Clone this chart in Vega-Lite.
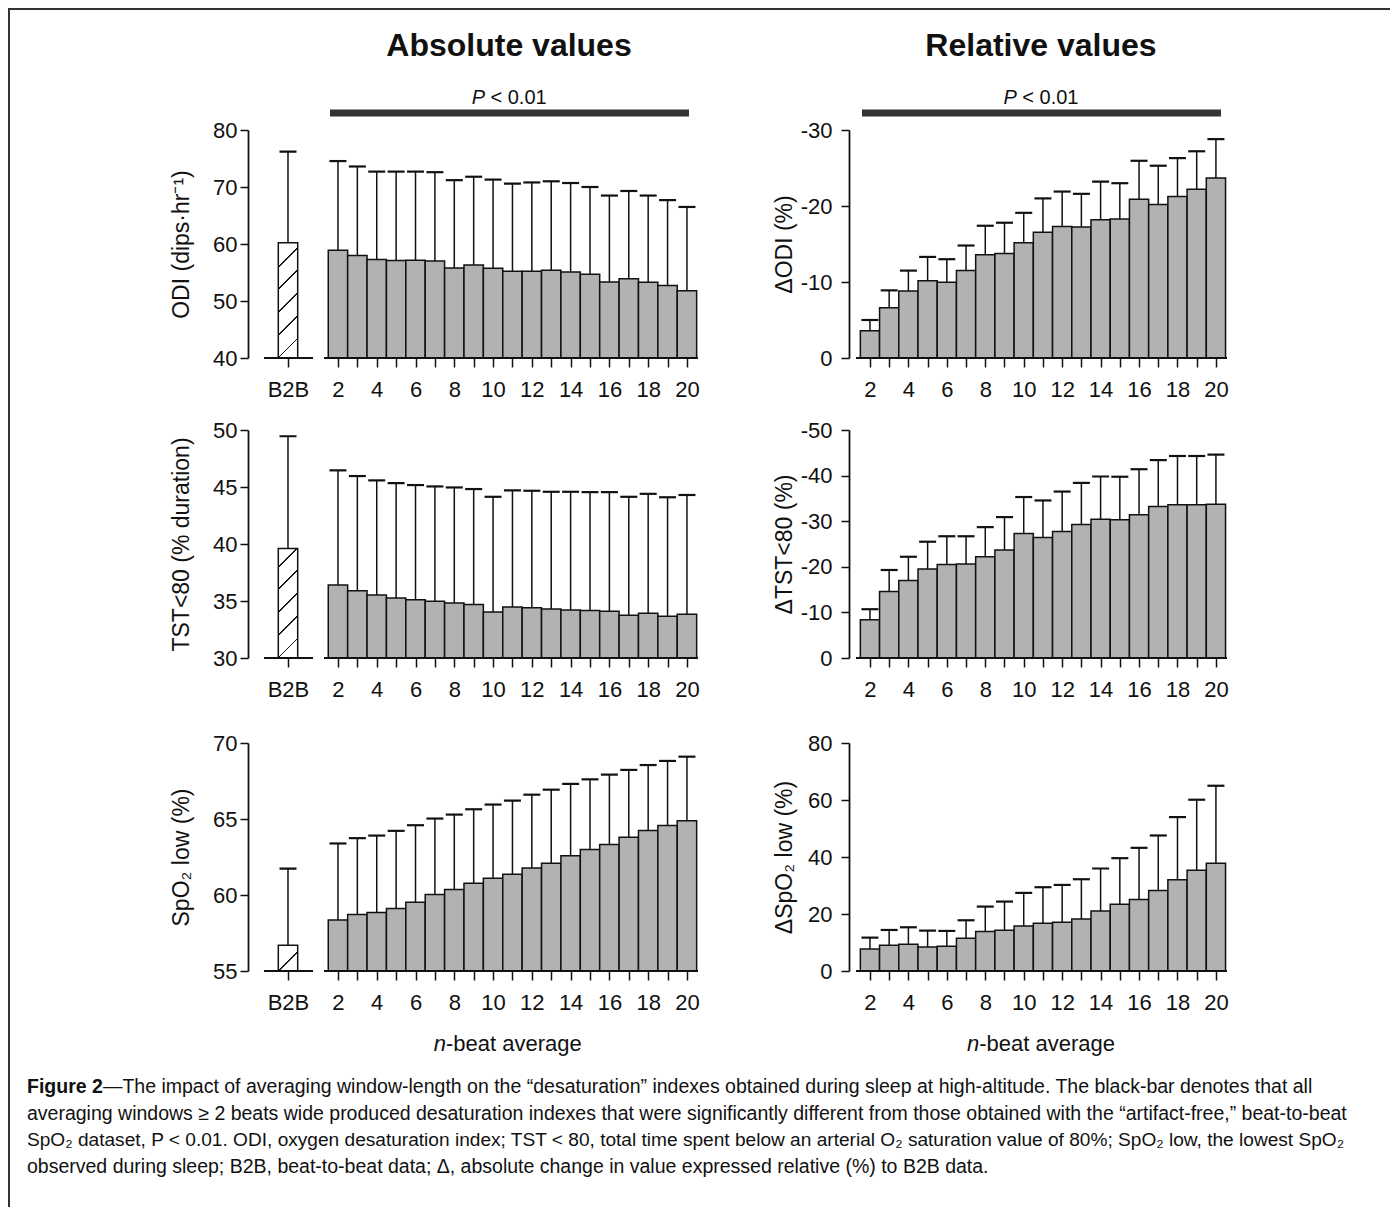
{
"$schema": "https://vega.github.io/schema/vega-lite/v6.json",
"usermeta": {"embedOptions": {"actions": false}},
"background": "white",
"padding": {"left": 7, "top": 7, "right": 0, "bottom": 0},
"config": {
  "view": {"stroke": null},
  "scale": {"continuousPadding": 0},
  "font": "Liberation Sans",
  "text": {"font": "Liberation Sans", "color": "#111"},
  "axis": {"labelFont": "Liberation Sans", "titleFont": "Liberation Sans", "labelFontSize": 22, "titleFontSize": 23, "titleFontWeight": "normal", "labelColor": "#111", "titleColor": "#111", "tickColor": "#111", "domainColor": "#111", "tickWidth": 1.5, "domainWidth": 1.8, "grid": false, "labelFlush": false, "labelOverlap": false, "labelBound": false},
  "axisX": {"domain": false, "tickSize": 9, "labelPadding": 12},
  "axisY": {"tickSize": 8, "labelPadding": 3, "titleBaseline": "middle"}
},
"datasets": {
  "abs": [
    {"panel":"ODI","n":2,"mean":58.9,"upper":74.55},{"panel":"ODI","n":3,"mean":58.0,"upper":73.6},{"panel":"ODI","n":4,"mean":57.3,"upper":72.7},{"panel":"ODI","n":5,"mean":57.1,"upper":72.7},{"panel":"ODI","n":6,"mean":57.15,"upper":72.7},{"panel":"ODI","n":7,"mean":57.0,"upper":72.6},{"panel":"ODI","n":8,"mean":55.8,"upper":71.2},{"panel":"ODI","n":9,"mean":56.3,"upper":71.8},{"panel":"ODI","n":10,"mean":55.75,"upper":71.3},{"panel":"ODI","n":11,"mean":55.2,"upper":70.6},{"panel":"ODI","n":12,"mean":55.2,"upper":70.8},{"panel":"ODI","n":13,"mean":55.4,"upper":71.0},{"panel":"ODI","n":14,"mean":55.1,"upper":70.7},{"panel":"ODI","n":15,"mean":54.7,"upper":70.0},{"panel":"ODI","n":16,"mean":53.35,"upper":68.5},{"panel":"ODI","n":17,"mean":53.9,"upper":69.3},{"panel":"ODI","n":18,"mean":53.3,"upper":68.5},{"panel":"ODI","n":19,"mean":52.7,"upper":67.7},{"panel":"ODI","n":20,"mean":51.8,"upper":66.5},
    {"panel":"TST","n":2,"mean":36.4,"upper":46.46},{"panel":"TST","n":3,"mean":35.9,"upper":45.96},{"panel":"TST","n":4,"mean":35.53,"upper":45.58},{"panel":"TST","n":5,"mean":35.27,"upper":45.34},{"panel":"TST","n":6,"mean":35.1,"upper":45.17},{"panel":"TST","n":7,"mean":34.98,"upper":45.05},{"panel":"TST","n":8,"mean":34.83,"upper":44.96},{"panel":"TST","n":9,"mean":34.69,"upper":44.82},{"panel":"TST","n":10,"mean":34.04,"upper":44.14},{"panel":"TST","n":11,"mean":34.48,"upper":44.7},{"panel":"TST","n":12,"mean":34.4,"upper":44.67},{"panel":"TST","n":13,"mean":34.3,"upper":44.58},{"panel":"TST","n":14,"mean":34.2,"upper":44.58},{"panel":"TST","n":15,"mean":34.16,"upper":44.55},{"panel":"TST","n":16,"mean":34.1,"upper":44.55},{"panel":"TST","n":17,"mean":33.75,"upper":44.14},{"panel":"TST","n":18,"mean":33.93,"upper":44.4},{"panel":"TST","n":19,"mean":33.67,"upper":44.1},{"panel":"TST","n":20,"mean":33.84,"upper":44.3},
    {"panel":"SPO","n":2,"mean":58.35,"upper":63.39},{"panel":"SPO","n":3,"mean":58.72,"upper":63.74},{"panel":"SPO","n":4,"mean":58.85,"upper":63.91},{"panel":"SPO","n":5,"mean":59.12,"upper":64.22},{"panel":"SPO","n":6,"mean":59.53,"upper":64.59},{"panel":"SPO","n":7,"mean":60.04,"upper":65.03},{"panel":"SPO","n":8,"mean":60.36,"upper":65.29},{"panel":"SPO","n":9,"mean":60.78,"upper":65.64},{"panel":"SPO","n":10,"mean":61.11,"upper":65.95},{"panel":"SPO","n":11,"mean":61.37,"upper":66.21},{"panel":"SPO","n":12,"mean":61.77,"upper":66.6},{"panel":"SPO","n":13,"mean":62.09,"upper":66.93},{"panel":"SPO","n":14,"mean":62.58,"upper":67.31},{"panel":"SPO","n":15,"mean":62.99,"upper":67.61},{"panel":"SPO","n":16,"mean":63.32,"upper":67.92},{"panel":"SPO","n":17,"mean":63.8,"upper":68.23},{"panel":"SPO","n":18,"mean":64.24,"upper":68.55},{"panel":"SPO","n":19,"mean":64.57,"upper":68.82},{"panel":"SPO","n":20,"mean":64.88,"upper":69.1}
  ],
  "rel": [
    {"panel":"ODI","n":2,"mean":-3.6,"upper":-5.0},{"panel":"ODI","n":3,"mean":-6.6,"upper":-8.9},{"panel":"ODI","n":4,"mean":-8.8,"upper":-11.5},{"panel":"ODI","n":5,"mean":-10.15,"upper":-13.3},{"panel":"ODI","n":6,"mean":-9.97,"upper":-13.0},{"panel":"ODI","n":7,"mean":-11.5,"upper":-14.8},{"panel":"ODI","n":8,"mean":-13.6,"upper":-17.4},{"panel":"ODI","n":9,"mean":-13.75,"upper":-17.8},{"panel":"ODI","n":10,"mean":-15.15,"upper":-19.1},{"panel":"ODI","n":11,"mean":-16.55,"upper":-21.0},{"panel":"ODI","n":12,"mean":-17.3,"upper":-21.9},{"panel":"ODI","n":13,"mean":-17.25,"upper":-21.6},{"panel":"ODI","n":14,"mean":-18.2,"upper":-23.2},{"panel":"ODI","n":15,"mean":-18.3,"upper":-23.0},{"panel":"ODI","n":16,"mean":-20.9,"upper":-25.95},{"panel":"ODI","n":17,"mean":-20.2,"upper":-25.3},{"panel":"ODI","n":18,"mean":-21.25,"upper":-26.3},{"panel":"ODI","n":19,"mean":-22.2,"upper":-27.2},{"panel":"ODI","n":20,"mean":-23.7,"upper":-28.8},
    {"panel":"TST","n":2,"mean":-8.4,"upper":-10.7},{"panel":"TST","n":3,"mean":-14.6,"upper":-19.3},{"panel":"TST","n":4,"mean":-17.0,"upper":-22.2},{"panel":"TST","n":5,"mean":-19.5,"upper":-25.5},{"panel":"TST","n":6,"mean":-20.5,"upper":-26.7},{"panel":"TST","n":7,"mean":-20.6,"upper":-26.7},{"panel":"TST","n":8,"mean":-22.2,"upper":-28.7},{"panel":"TST","n":9,"mean":-23.7,"upper":-30.9},{"panel":"TST","n":10,"mean":-27.3,"upper":-35.3},{"panel":"TST","n":11,"mean":-26.4,"upper":-34.55},{"panel":"TST","n":12,"mean":-27.75,"upper":-36.5},{"panel":"TST","n":13,"mean":-29.3,"upper":-38.4},{"panel":"TST","n":14,"mean":-30.45,"upper":-39.8},{"panel":"TST","n":15,"mean":-30.3,"upper":-39.75},{"panel":"TST","n":16,"mean":-31.4,"upper":-41.4},{"panel":"TST","n":17,"mean":-33.2,"upper":-43.4},{"panel":"TST","n":18,"mean":-33.6,"upper":-44.3},{"panel":"TST","n":19,"mean":-33.6,"upper":-44.3},{"panel":"TST","n":20,"mean":-33.7,"upper":-44.6},
    {"panel":"SPO","n":2,"mean":7.73,"upper":11.71},{"panel":"SPO","n":3,"mean":9.02,"upper":14.4},{"panel":"SPO","n":4,"mean":9.37,"upper":15.34},{"panel":"SPO","n":5,"mean":8.43,"upper":14.17},{"panel":"SPO","n":6,"mean":8.67,"upper":14.06},{"panel":"SPO","n":7,"mean":11.48,"upper":17.8},{"panel":"SPO","n":8,"mean":13.82,"upper":22.6},{"panel":"SPO","n":9,"mean":14.29,"upper":24.36},{"panel":"SPO","n":10,"mean":15.81,"upper":27.41},{"panel":"SPO","n":11,"mean":16.75,"upper":29.4},{"panel":"SPO","n":12,"mean":17.1,"upper":30.2},{"panel":"SPO","n":13,"mean":18.27,"upper":32.2},{"panel":"SPO","n":14,"mean":21.08,"upper":35.96},{"panel":"SPO","n":15,"mean":23.43,"upper":39.59},{"panel":"SPO","n":16,"mean":25.07,"upper":43.22},{"panel":"SPO","n":17,"mean":28.23,"upper":47.55},{"panel":"SPO","n":18,"mean":31.98,"upper":54.0},{"panel":"SPO","n":19,"mean":35.37,"upper":60.1},{"panel":"SPO","n":20,"mean":37.83,"upper":65.0}
  ],
  "b2b": [
    {"panel":"ODI","mean":60.2,"upper":76.2},
    {"panel":"TST","mean":39.6,"upper":49.45},
    {"panel":"SPO","mean":56.7,"upper":61.74}
  ],
  "caption": [
    {"line":1,"part":"bold","text":"Figure 2"},
    {"line":1,"part":"rest","text":"—The impact of averaging window-length on the “desaturation” indexes obtained during sleep at high-altitude. The black-bar denotes that all"},
    {"line":2,"part":"rest","text":"averaging windows ≥ 2 beats wide produced desaturation indexes that were significantly different from those obtained with the “artifact-free,” beat-to-beat"},
    {"line":3,"part":"rest","text":"SpO₂ dataset, P < 0.01. ODI, oxygen desaturation index; TST < 80, total time spent below an arterial O₂ saturation value of 80%; SpO₂ low, the lowest SpO₂"},
    {"line":4,"part":"rest","text":"observed during sleep; B2B, beat-to-beat data; Δ, absolute change in value expressed relative (%) to B2B data."}
  ]
},
"columns": 2,
"spacing": {"row": 35.5, "column": 151},
"bounds": "flush",
"concat": [
 {
  "width": 450, "height": 228,
  "layer": [
   {"data": {"name": "abs"}, "transform": [{"filter": "datum.panel == 'ODI'"}],
    "mark": {"type": "bar", "width": 19.39, "fill": "#b2b2b2", "stroke": "#111", "strokeWidth": 1.5, "opacity": 1},
    "encoding": {
     "x": {"field": "n", "type": "quantitative", "scale": {"domain": [-2.64, 20.57], "nice": false, "zero": false},
           "axis": {"values": [-0.577,2,3,4,5,6,7,8,9,10,11,12,13,14,15,16,17,18,19,20], "tickCount": 40, "labelExpr": "datum.value < 1 ? 'B2B' : (datum.value % 2 == 0 ? '' + datum.value : '')", "title": null}},
     "y": {"field": "mean", "type": "quantitative", "scale": {"domain": [40, 80], "nice": false, "zero": false},
           "axis": {"values": [40,50,60,70,80], "title": "ODI (dips·hr⁻¹)", "titleX": -67}},
     "y2": {"datum": 40}}},
   {"data": {"name": "abs"}, "transform": [{"filter": "datum.panel == 'ODI'"}],
    "mark": {"type": "rule", "color": "#111", "strokeWidth": 1.5},
    "encoding": {
     "x": {"field": "n", "type": "quantitative", "scale": {"domain": [-2.64, 20.57], "nice": false, "zero": false}},
     "y": {"field": "mean", "type": "quantitative", "scale": {"domain": [40, 80], "nice": false, "zero": false}},
     "y2": {"field": "upper"}}},
   {"data": {"name": "abs"}, "transform": [{"filter": "datum.panel == 'ODI'"}],
    "mark": {"type": "tick", "orient": "horizontal", "size": 17, "thickness": 2.2, "color": "#111", "opacity": 1},
    "encoding": {
     "x": {"field": "n", "type": "quantitative", "scale": {"domain": [-2.64, 20.57], "nice": false, "zero": false}},
     "y": {"field": "upper", "type": "quantitative", "scale": {"domain": [40, 80], "nice": false, "zero": false}}}},
   {"data": {"name": "b2b"}, "transform": [{"filter": "datum.panel == 'ODI'"}],
    "mark": {"type": "bar", "width": 19.39, "stroke": "#111", "strokeWidth": 1.5, "opacity": 1,
      "fill": {"gradient": "linear", "x1": 0, "y1": 0, "x2": 0.1685, "y2": 1, "stops": [
        {"offset": 0, "color": "white"},
        {"offset": 0.1955, "color": "white"}, {"offset": 0.1955, "color": "#111"}, {"offset": 0.2115, "color": "#111"}, {"offset": 0.2115, "color": "white"},
        {"offset": 0.3871, "color": "white"}, {"offset": 0.3871, "color": "#111"}, {"offset": 0.4031, "color": "#111"}, {"offset": 0.4031, "color": "white"},
        {"offset": 0.5785, "color": "white"}, {"offset": 0.5785, "color": "#111"}, {"offset": 0.5945, "color": "#111"}, {"offset": 0.5945, "color": "white"},
        {"offset": 0.7702, "color": "white"}, {"offset": 0.7702, "color": "#111"}, {"offset": 0.7862, "color": "#111"}, {"offset": 0.7862, "color": "white"},
        {"offset": 0.9618, "color": "white"}, {"offset": 0.9618, "color": "#111"}, {"offset": 0.9778, "color": "#111"}, {"offset": 0.9778, "color": "white"},
        {"offset": 1, "color": "white"}]}},
    "encoding": {
     "x": {"datum": -0.577, "type": "quantitative", "scale": {"domain": [-2.64, 20.57], "nice": false, "zero": false}},
     "y": {"field": "mean", "type": "quantitative", "scale": {"domain": [40, 80], "nice": false, "zero": false}},
     "y2": {"datum": 40}}},
   {"data": {"name": "b2b"}, "transform": [{"filter": "datum.panel == 'ODI'"}],
    "mark": {"type": "rule", "color": "#111", "strokeWidth": 1.5},
    "encoding": {
     "x": {"datum": -0.577, "type": "quantitative", "scale": {"domain": [-2.64, 20.57], "nice": false, "zero": false}},
     "y": {"field": "mean", "type": "quantitative", "scale": {"domain": [40, 80], "nice": false, "zero": false}},
     "y2": {"field": "upper"}}},
   {"data": {"name": "b2b"}, "transform": [{"filter": "datum.panel == 'ODI'"}],
    "mark": {"type": "tick", "orient": "horizontal", "size": 17, "thickness": 2.2, "color": "#111", "opacity": 1},
    "encoding": {
     "x": {"datum": -0.577, "type": "quantitative", "scale": {"domain": [-2.64, 20.57], "nice": false, "zero": false}},
     "y": {"field": "upper", "type": "quantitative", "scale": {"domain": [40, 80], "nice": false, "zero": false}}}},
   {"data": {"values": [{}]}, "mark": {"type": "rule", "color": "#111", "strokeWidth": 2},
    "encoding": {
     "x": {"datum": -1.815, "type": "quantitative", "scale": {"domain": [-2.64, 20.57], "nice": false, "zero": false}},
     "x2": {"datum": 0.713},
     "y": {"datum": 40, "type": "quantitative", "scale": {"domain": [40, 80], "nice": false, "zero": false}}}},
   {"data": {"values": [{}]}, "mark": {"type": "rule", "color": "#111", "strokeWidth": 2},
    "encoding": {
     "x": {"datum": 1.28, "type": "quantitative", "scale": {"domain": [-2.64, 20.57], "nice": false, "zero": false}},
     "x2": {"datum": 20.57},
     "y": {"datum": 40, "type": "quantitative", "scale": {"domain": [40, 80], "nice": false, "zero": false}}}},
   {"data": {"values": [{}]}, "mark": {"type": "rule", "color": "#333", "strokeWidth": 7},
    "encoding": {
     "x": {"datum": 1.589, "type": "quantitative", "scale": {"domain": [-2.64, 20.57], "nice": false, "zero": false}},
     "x2": {"datum": 20.106},
     "y": {"datum": 82.982, "type": "quantitative", "scale": {"domain": [40, 80], "nice": false, "zero": false}}}},
   {"data": {"values": [{}]}, "mark": {"type": "text", "text": "P", "fontSize": 20, "fontStyle": "italic", "align": "right", "baseline": "middle"},
    "encoding": {
     "x": {"datum": 9.584, "type": "quantitative", "scale": {"domain": [-2.64, 20.57], "nice": false, "zero": false}},
     "y": {"datum": 85.614, "type": "quantitative", "scale": {"domain": [40, 80], "nice": false, "zero": false}}}},
   {"data": {"values": [{}]}, "mark": {"type": "text", "text": "< 0.01", "fontSize": 20, "align": "left", "baseline": "middle", "dx": 5.5},
    "encoding": {
     "x": {"datum": 9.584, "type": "quantitative", "scale": {"domain": [-2.64, 20.57], "nice": false, "zero": false}},
     "y": {"datum": 85.614, "type": "quantitative", "scale": {"domain": [40, 80], "nice": false, "zero": false}}}},
   {"data": {"values": [{}]}, "mark": {"type": "text", "text": "Absolute values", "fontSize": 32, "fontWeight": "bold", "align": "center", "baseline": "middle"},
    "encoding": {
     "x": {"datum": 10.822, "type": "quantitative", "scale": {"domain": [-2.64, 20.57], "nice": false, "zero": false}},
     "y": {"datum": 94.737, "type": "quantitative", "scale": {"domain": [40, 80], "nice": false, "zero": false}}}},
   {"data": {"values": [{}]}, "mark": {"type": "rule", "color": "#333", "strokeWidth": 2, "strokeCap": "square"},
    "encoding": {
     "x": {"datum": -14.967, "type": "quantitative", "scale": {"domain": [-2.64, 20.57], "nice": false, "zero": false}},
     "y": {"datum": 101.228, "type": "quantitative", "scale": {"domain": [40, 80], "nice": false, "zero": false}},
     "y2": {"datum": -108.772}}},
   {"data": {"values": [{}]}, "mark": {"type": "rule", "color": "#333", "strokeWidth": 2, "strokeCap": "square"},
    "encoding": {
     "x": {"datum": -14.967, "type": "quantitative", "scale": {"domain": [-2.64, 20.57], "nice": false, "zero": false}},
     "x2": {"datum": 56.211},
     "y": {"datum": 101.228, "type": "quantitative", "scale": {"domain": [40, 80], "nice": false, "zero": false}}}}
  ]
 },
 {
  "width": 380, "height": 228,
  "layer": [
   {"data": {"name": "rel"}, "transform": [{"filter": "datum.panel == 'ODI'"}],
    "mark": {"type": "bar", "width": 19.22, "fill": "#b2b2b2", "stroke": "#111", "strokeWidth": 1.5, "opacity": 1},
    "encoding": {
     "x": {"field": "n", "type": "quantitative", "scale": {"domain": [0.91, 20.68], "nice": false, "zero": false},
           "axis": {"values": [2,3,4,5,6,7,8,9,10,11,12,13,14,15,16,17,18,19,20], "tickCount": 40, "labelExpr": "datum.value % 2 == 0 ? '' + datum.value : ''", "title": null}},
     "y": {"field": "mean", "type": "quantitative", "scale": {"domain": [0, -30], "nice": false, "zero": false},
           "axis": {"values": [0,-10,-20,-30], "labelPadding": 9, "labelExpr": "'' + datum.value", "title": "ΔODI (%)", "titleX": -65}},
     "y2": {"datum": 0}}},
   {"data": {"name": "rel"}, "transform": [{"filter": "datum.panel == 'ODI'"}],
    "mark": {"type": "rule", "color": "#111", "strokeWidth": 1.5},
    "encoding": {
     "x": {"field": "n", "type": "quantitative", "scale": {"domain": [0.91, 20.68], "nice": false, "zero": false}},
     "y": {"field": "mean", "type": "quantitative", "scale": {"domain": [0, -30], "nice": false, "zero": false}},
     "y2": {"field": "upper"}}},
   {"data": {"name": "rel"}, "transform": [{"filter": "datum.panel == 'ODI'"}],
    "mark": {"type": "tick", "orient": "horizontal", "size": 17, "thickness": 2.2, "color": "#111", "opacity": 1},
    "encoding": {
     "x": {"field": "n", "type": "quantitative", "scale": {"domain": [0.91, 20.68], "nice": false, "zero": false}},
     "y": {"field": "upper", "type": "quantitative", "scale": {"domain": [0, -30], "nice": false, "zero": false}}}},
   {"data": {"values": [{}]}, "mark": {"type": "rule", "color": "#111", "strokeWidth": 2},
    "encoding": {
     "x": {"datum": 1.274, "type": "quantitative", "scale": {"domain": [0.91, 20.68], "nice": false, "zero": false}},
     "x2": {"datum": 20.576},
     "y": {"datum": 0, "type": "quantitative", "scale": {"domain": [0, -30], "nice": false, "zero": false}}}},
   {"data": {"values": [{}]}, "mark": {"type": "rule", "color": "#333", "strokeWidth": 7},
    "encoding": {
     "x": {"datum": 1.586, "type": "quantitative", "scale": {"domain": [0.91, 20.68], "nice": false, "zero": false}},
     "x2": {"datum": 20.264},
     "y": {"datum": -32.237, "type": "quantitative", "scale": {"domain": [0, -30], "nice": false, "zero": false}}}},
   {"data": {"values": [{}]}, "mark": {"type": "text", "text": "P", "fontSize": 20, "fontStyle": "italic", "align": "right", "baseline": "middle"},
    "encoding": {
     "x": {"datum": 9.64, "type": "quantitative", "scale": {"domain": [0.91, 20.68], "nice": false, "zero": false}},
     "y": {"datum": -34.211, "type": "quantitative", "scale": {"domain": [0, -30], "nice": false, "zero": false}}}},
   {"data": {"values": [{}]}, "mark": {"type": "text", "text": "< 0.01", "fontSize": 20, "align": "left", "baseline": "middle", "dx": 5.5},
    "encoding": {
     "x": {"datum": 9.64, "type": "quantitative", "scale": {"domain": [0.91, 20.68], "nice": false, "zero": false}},
     "y": {"datum": -34.211, "type": "quantitative", "scale": {"domain": [0, -30], "nice": false, "zero": false}}}},
   {"data": {"values": [{}]}, "mark": {"type": "text", "text": "Relative values", "fontSize": 32, "fontWeight": "bold", "align": "center", "baseline": "middle"},
    "encoding": {
     "x": {"datum": 10.899, "type": "quantitative", "scale": {"domain": [0.91, 20.68], "nice": false, "zero": false}},
     "y": {"datum": -41.053, "type": "quantitative", "scale": {"domain": [0, -30], "nice": false, "zero": false}}}}
  ]
 },
 {"width": 1, "height": 1, "data": {"values": [{}]}, "mark": {"type": "text", "text": ""}},
 {"width": 1, "height": 1, "data": {"values": [{}]}, "mark": {"type": "text", "text": ""}},
 {
  "width": 450, "height": 228,
  "layer": [
   {"data": {"name": "abs"}, "transform": [{"filter": "datum.panel == 'TST'"}],
    "mark": {"type": "bar", "width": 19.39, "fill": "#b2b2b2", "stroke": "#111", "strokeWidth": 1.5, "opacity": 1},
    "encoding": {
     "x": {"field": "n", "type": "quantitative", "scale": {"domain": [-2.64, 20.57], "nice": false, "zero": false},
           "axis": {"values": [-0.577,2,3,4,5,6,7,8,9,10,11,12,13,14,15,16,17,18,19,20], "tickCount": 40, "labelExpr": "datum.value < 1 ? 'B2B' : (datum.value % 2 == 0 ? '' + datum.value : '')", "title": null}},
     "y": {"field": "mean", "type": "quantitative", "scale": {"domain": [30, 50], "nice": false, "zero": false},
           "axis": {"values": [30,35,40,45,50], "title": "TST<80 (% duration)", "titleX": -67}},
     "y2": {"datum": 30}}},
   {"data": {"name": "abs"}, "transform": [{"filter": "datum.panel == 'TST'"}],
    "mark": {"type": "rule", "color": "#111", "strokeWidth": 1.5},
    "encoding": {
     "x": {"field": "n", "type": "quantitative", "scale": {"domain": [-2.64, 20.57], "nice": false, "zero": false}},
     "y": {"field": "mean", "type": "quantitative", "scale": {"domain": [30, 50], "nice": false, "zero": false}},
     "y2": {"field": "upper"}}},
   {"data": {"name": "abs"}, "transform": [{"filter": "datum.panel == 'TST'"}],
    "mark": {"type": "tick", "orient": "horizontal", "size": 17, "thickness": 2.2, "color": "#111", "opacity": 1},
    "encoding": {
     "x": {"field": "n", "type": "quantitative", "scale": {"domain": [-2.64, 20.57], "nice": false, "zero": false}},
     "y": {"field": "upper", "type": "quantitative", "scale": {"domain": [30, 50], "nice": false, "zero": false}}}},
   {"data": {"name": "b2b"}, "transform": [{"filter": "datum.panel == 'TST'"}],
    "mark": {"type": "bar", "width": 19.39, "stroke": "#111", "strokeWidth": 1.5, "opacity": 1,
      "fill": {"gradient": "linear", "x1": 0, "y1": 0, "x2": 0.1772, "y2": 1, "stops": [
        {"offset": 0, "color": "white"},
        {"offset": 0.1539, "color": "white"}, {"offset": 0.1539, "color": "#111"}, {"offset": 0.1703, "color": "#111"}, {"offset": 0.1703, "color": "white"},
        {"offset": 0.3551, "color": "white"}, {"offset": 0.3551, "color": "#111"}, {"offset": 0.3715, "color": "#111"}, {"offset": 0.3715, "color": "white"},
        {"offset": 0.5563, "color": "white"}, {"offset": 0.5563, "color": "#111"}, {"offset": 0.5727, "color": "#111"}, {"offset": 0.5727, "color": "white"},
        {"offset": 0.7575, "color": "white"}, {"offset": 0.7575, "color": "#111"}, {"offset": 0.7739, "color": "#111"}, {"offset": 0.7739, "color": "white"},
        {"offset": 0.9587, "color": "white"}, {"offset": 0.9587, "color": "#111"}, {"offset": 0.9751, "color": "#111"}, {"offset": 0.9751, "color": "white"},
        {"offset": 1, "color": "white"}]}},
    "encoding": {
     "x": {"datum": -0.577, "type": "quantitative", "scale": {"domain": [-2.64, 20.57], "nice": false, "zero": false}},
     "y": {"field": "mean", "type": "quantitative", "scale": {"domain": [30, 50], "nice": false, "zero": false}},
     "y2": {"datum": 30}}},
   {"data": {"name": "b2b"}, "transform": [{"filter": "datum.panel == 'TST'"}],
    "mark": {"type": "rule", "color": "#111", "strokeWidth": 1.5},
    "encoding": {
     "x": {"datum": -0.577, "type": "quantitative", "scale": {"domain": [-2.64, 20.57], "nice": false, "zero": false}},
     "y": {"field": "mean", "type": "quantitative", "scale": {"domain": [30, 50], "nice": false, "zero": false}},
     "y2": {"field": "upper"}}},
   {"data": {"name": "b2b"}, "transform": [{"filter": "datum.panel == 'TST'"}],
    "mark": {"type": "tick", "orient": "horizontal", "size": 17, "thickness": 2.2, "color": "#111", "opacity": 1},
    "encoding": {
     "x": {"datum": -0.577, "type": "quantitative", "scale": {"domain": [-2.64, 20.57], "nice": false, "zero": false}},
     "y": {"field": "upper", "type": "quantitative", "scale": {"domain": [30, 50], "nice": false, "zero": false}}}},
   {"data": {"values": [{}]}, "mark": {"type": "rule", "color": "#111", "strokeWidth": 2},
    "encoding": {
     "x": {"datum": -1.815, "type": "quantitative", "scale": {"domain": [-2.64, 20.57], "nice": false, "zero": false}},
     "x2": {"datum": 0.713},
     "y": {"datum": 30, "type": "quantitative", "scale": {"domain": [30, 50], "nice": false, "zero": false}}}},
   {"data": {"values": [{}]}, "mark": {"type": "rule", "color": "#111", "strokeWidth": 2},
    "encoding": {
     "x": {"datum": 1.28, "type": "quantitative", "scale": {"domain": [-2.64, 20.57], "nice": false, "zero": false}},
     "x2": {"datum": 20.57},
     "y": {"datum": 30, "type": "quantitative", "scale": {"domain": [30, 50], "nice": false, "zero": false}}}}
  ]
 },
 {
  "width": 380, "height": 228,
  "layer": [
   {"data": {"name": "rel"}, "transform": [{"filter": "datum.panel == 'TST'"}],
    "mark": {"type": "bar", "width": 19.22, "fill": "#b2b2b2", "stroke": "#111", "strokeWidth": 1.5, "opacity": 1},
    "encoding": {
     "x": {"field": "n", "type": "quantitative", "scale": {"domain": [0.91, 20.68], "nice": false, "zero": false},
           "axis": {"values": [2,3,4,5,6,7,8,9,10,11,12,13,14,15,16,17,18,19,20], "tickCount": 40, "labelExpr": "datum.value % 2 == 0 ? '' + datum.value : ''", "title": null}},
     "y": {"field": "mean", "type": "quantitative", "scale": {"domain": [0, -50], "nice": false, "zero": false},
           "axis": {"values": [0,-10,-20,-30,-40,-50], "tickCount": 10, "labelPadding": 9, "labelExpr": "'' + datum.value", "title": "ΔTST<80 (%)", "titleX": -65}},
     "y2": {"datum": 0}}},
   {"data": {"name": "rel"}, "transform": [{"filter": "datum.panel == 'TST'"}],
    "mark": {"type": "rule", "color": "#111", "strokeWidth": 1.5},
    "encoding": {
     "x": {"field": "n", "type": "quantitative", "scale": {"domain": [0.91, 20.68], "nice": false, "zero": false}},
     "y": {"field": "mean", "type": "quantitative", "scale": {"domain": [0, -50], "nice": false, "zero": false}},
     "y2": {"field": "upper"}}},
   {"data": {"name": "rel"}, "transform": [{"filter": "datum.panel == 'TST'"}],
    "mark": {"type": "tick", "orient": "horizontal", "size": 17, "thickness": 2.2, "color": "#111", "opacity": 1},
    "encoding": {
     "x": {"field": "n", "type": "quantitative", "scale": {"domain": [0.91, 20.68], "nice": false, "zero": false}},
     "y": {"field": "upper", "type": "quantitative", "scale": {"domain": [0, -50], "nice": false, "zero": false}}}},
   {"data": {"values": [{}]}, "mark": {"type": "rule", "color": "#111", "strokeWidth": 2},
    "encoding": {
     "x": {"datum": 1.274, "type": "quantitative", "scale": {"domain": [0.91, 20.68], "nice": false, "zero": false}},
     "x2": {"datum": 20.576},
     "y": {"datum": 0, "type": "quantitative", "scale": {"domain": [0, -50], "nice": false, "zero": false}}}}
  ]
 },
 {"width": 1, "height": 14, "data": {"values": [{}]}, "mark": {"type": "text", "text": ""}},
 {"width": 1, "height": 14, "data": {"values": [{}]}, "mark": {"type": "text", "text": ""}},
 {
  "width": 450, "height": 228,
  "layer": [
   {"data": {"name": "abs"}, "transform": [{"filter": "datum.panel == 'SPO'"}],
    "mark": {"type": "bar", "width": 19.39, "fill": "#b2b2b2", "stroke": "#111", "strokeWidth": 1.5, "opacity": 1},
    "encoding": {
     "x": {"field": "n", "type": "quantitative", "scale": {"domain": [-2.64, 20.57], "nice": false, "zero": false},
           "axis": {"values": [-0.577,2,3,4,5,6,7,8,9,10,11,12,13,14,15,16,17,18,19,20], "tickCount": 40, "labelExpr": "datum.value < 1 ? 'B2B' : (datum.value % 2 == 0 ? '' + datum.value : '')", "title": null}},
     "y": {"field": "mean", "type": "quantitative", "scale": {"domain": [55, 70], "nice": false, "zero": false},
           "axis": {"values": [55,60,65,70], "title": "SpO₂ low (%)", "titleX": -67}},
     "y2": {"datum": 55}}},
   {"data": {"name": "abs"}, "transform": [{"filter": "datum.panel == 'SPO'"}],
    "mark": {"type": "rule", "color": "#111", "strokeWidth": 1.5},
    "encoding": {
     "x": {"field": "n", "type": "quantitative", "scale": {"domain": [-2.64, 20.57], "nice": false, "zero": false}},
     "y": {"field": "mean", "type": "quantitative", "scale": {"domain": [55, 70], "nice": false, "zero": false}},
     "y2": {"field": "upper"}}},
   {"data": {"name": "abs"}, "transform": [{"filter": "datum.panel == 'SPO'"}],
    "mark": {"type": "tick", "orient": "horizontal", "size": 17, "thickness": 2.2, "color": "#111", "opacity": 1},
    "encoding": {
     "x": {"field": "n", "type": "quantitative", "scale": {"domain": [-2.64, 20.57], "nice": false, "zero": false}},
     "y": {"field": "upper", "type": "quantitative", "scale": {"domain": [55, 70], "nice": false, "zero": false}}}},
   {"data": {"name": "b2b"}, "transform": [{"filter": "datum.panel == 'SPO'"}],
    "mark": {"type": "bar", "width": 19.39, "stroke": "#111", "strokeWidth": 1.5, "opacity": 1,
      "fill": {"gradient": "linear", "x1": 0, "y1": 0, "x2": 0.7504, "y2": 1, "stops": [
        {"offset": 0, "color": "white"},
        {"offset": 0.6139, "color": "white"}, {"offset": 0.6139, "color": "#111"}, {"offset": 0.6595, "color": "#111"}, {"offset": 0.6595, "color": "white"},
        {"offset": 1, "color": "white"}]}},
    "encoding": {
     "x": {"datum": -0.577, "type": "quantitative", "scale": {"domain": [-2.64, 20.57], "nice": false, "zero": false}},
     "y": {"field": "mean", "type": "quantitative", "scale": {"domain": [55, 70], "nice": false, "zero": false}},
     "y2": {"datum": 55}}},
   {"data": {"name": "b2b"}, "transform": [{"filter": "datum.panel == 'SPO'"}],
    "mark": {"type": "rule", "color": "#111", "strokeWidth": 1.5},
    "encoding": {
     "x": {"datum": -0.577, "type": "quantitative", "scale": {"domain": [-2.64, 20.57], "nice": false, "zero": false}},
     "y": {"field": "mean", "type": "quantitative", "scale": {"domain": [55, 70], "nice": false, "zero": false}},
     "y2": {"field": "upper"}}},
   {"data": {"name": "b2b"}, "transform": [{"filter": "datum.panel == 'SPO'"}],
    "mark": {"type": "tick", "orient": "horizontal", "size": 17, "thickness": 2.2, "color": "#111", "opacity": 1},
    "encoding": {
     "x": {"datum": -0.577, "type": "quantitative", "scale": {"domain": [-2.64, 20.57], "nice": false, "zero": false}},
     "y": {"field": "upper", "type": "quantitative", "scale": {"domain": [55, 70], "nice": false, "zero": false}}}},
   {"data": {"values": [{}]}, "mark": {"type": "rule", "color": "#111", "strokeWidth": 2},
    "encoding": {
     "x": {"datum": -1.815, "type": "quantitative", "scale": {"domain": [-2.64, 20.57], "nice": false, "zero": false}},
     "x2": {"datum": 0.713},
     "y": {"datum": 55, "type": "quantitative", "scale": {"domain": [55, 70], "nice": false, "zero": false}}}},
   {"data": {"values": [{}]}, "mark": {"type": "rule", "color": "#111", "strokeWidth": 2},
    "encoding": {
     "x": {"datum": 1.28, "type": "quantitative", "scale": {"domain": [-2.64, 20.57], "nice": false, "zero": false}},
     "x2": {"datum": 20.57},
     "y": {"datum": 55, "type": "quantitative", "scale": {"domain": [55, 70], "nice": false, "zero": false}}}},
   {"data": {"values": [{}]}, "mark": {"type": "text", "text": "n", "fontSize": 22, "fontStyle": "italic", "align": "right", "baseline": "middle"},
    "encoding": {
     "x": {"datum": 7.573, "type": "quantitative", "scale": {"domain": [-2.64, 20.57], "nice": false, "zero": false}},
     "y": {"datum": 50.197, "type": "quantitative", "scale": {"domain": [55, 70], "nice": false, "zero": false}}}},
   {"data": {"values": [{}]}, "mark": {"type": "text", "text": "-beat average", "fontSize": 22, "align": "left", "baseline": "middle"},
    "encoding": {
     "x": {"datum": 7.573, "type": "quantitative", "scale": {"domain": [-2.64, 20.57], "nice": false, "zero": false}},
     "y": {"datum": 50.197, "type": "quantitative", "scale": {"domain": [55, 70], "nice": false, "zero": false}}}},
   {"data": {"name": "caption"}, "transform": [{"filter": "datum.line == 1 && datum.part == 'bold'"}],
    "mark": {"type": "text", "fontSize": 19.5, "fontWeight": "bold", "align": "left", "baseline": "middle"},
    "encoding": {
     "x": {"datum": -14.039, "type": "quantitative", "scale": {"domain": [-2.64, 20.57], "nice": false, "zero": false}},
     "y": {"datum": 47.368, "type": "quantitative", "scale": {"domain": [55, 70], "nice": false, "zero": false}},
     "text": {"field": "text"}}},
   {"data": {"name": "caption"}, "transform": [{"filter": "datum.line == 1 && datum.part == 'rest'"}],
    "mark": {"type": "text", "fontSize": 19.5, "align": "left", "baseline": "middle", "dx": 75.9},
    "encoding": {
     "x": {"datum": -14.039, "type": "quantitative", "scale": {"domain": [-2.64, 20.57], "nice": false, "zero": false}},
     "y": {"datum": 47.368, "type": "quantitative", "scale": {"domain": [55, 70], "nice": false, "zero": false}},
     "text": {"field": "text"}}},
   {"data": {"name": "caption"}, "transform": [{"filter": "datum.line == 2"}],
    "mark": {"type": "text", "fontSize": 19.5, "align": "left", "baseline": "middle"},
    "encoding": {
     "x": {"datum": -14.039, "type": "quantitative", "scale": {"domain": [-2.64, 20.57], "nice": false, "zero": false}},
     "y": {"datum": 45.612, "type": "quantitative", "scale": {"domain": [55, 70], "nice": false, "zero": false}},
     "text": {"field": "text"}}},
   {"data": {"name": "caption"}, "transform": [{"filter": "datum.line == 3"}],
    "mark": {"type": "text", "fontSize": 19.1, "align": "left", "baseline": "middle"},
    "encoding": {
     "x": {"datum": -14.039, "type": "quantitative", "scale": {"domain": [-2.64, 20.57], "nice": false, "zero": false}},
     "y": {"datum": 43.855, "type": "quantitative", "scale": {"domain": [55, 70], "nice": false, "zero": false}},
     "text": {"field": "text"}}},
   {"data": {"name": "caption"}, "transform": [{"filter": "datum.line == 4"}],
    "mark": {"type": "text", "fontSize": 19.5, "align": "left", "baseline": "middle"},
    "encoding": {
     "x": {"datum": -14.039, "type": "quantitative", "scale": {"domain": [-2.64, 20.57], "nice": false, "zero": false}},
     "y": {"datum": 42.099, "type": "quantitative", "scale": {"domain": [55, 70], "nice": false, "zero": false}},
     "text": {"field": "text"}}}
  ]
 },
 {
  "width": 380, "height": 228,
  "layer": [
   {"data": {"name": "rel"}, "transform": [{"filter": "datum.panel == 'SPO'"}],
    "mark": {"type": "bar", "width": 19.22, "fill": "#b2b2b2", "stroke": "#111", "strokeWidth": 1.5, "opacity": 1},
    "encoding": {
     "x": {"field": "n", "type": "quantitative", "scale": {"domain": [0.91, 20.68], "nice": false, "zero": false},
           "axis": {"values": [2,3,4,5,6,7,8,9,10,11,12,13,14,15,16,17,18,19,20], "tickCount": 40, "labelExpr": "datum.value % 2 == 0 ? '' + datum.value : ''", "title": null}},
     "y": {"field": "mean", "type": "quantitative", "scale": {"domain": [0, 80], "nice": false, "zero": false},
           "axis": {"values": [0,20,40,60,80], "labelPadding": 9, "labelExpr": "'' + datum.value", "title": "ΔSpO₂ low (%)", "titleX": -65}},
     "y2": {"datum": 0}}},
   {"data": {"name": "rel"}, "transform": [{"filter": "datum.panel == 'SPO'"}],
    "mark": {"type": "rule", "color": "#111", "strokeWidth": 1.5},
    "encoding": {
     "x": {"field": "n", "type": "quantitative", "scale": {"domain": [0.91, 20.68], "nice": false, "zero": false}},
     "y": {"field": "mean", "type": "quantitative", "scale": {"domain": [0, 80], "nice": false, "zero": false}},
     "y2": {"field": "upper"}}},
   {"data": {"name": "rel"}, "transform": [{"filter": "datum.panel == 'SPO'"}],
    "mark": {"type": "tick", "orient": "horizontal", "size": 17, "thickness": 2.2, "color": "#111", "opacity": 1},
    "encoding": {
     "x": {"field": "n", "type": "quantitative", "scale": {"domain": [0.91, 20.68], "nice": false, "zero": false}},
     "y": {"field": "upper", "type": "quantitative", "scale": {"domain": [0, 80], "nice": false, "zero": false}}}},
   {"data": {"values": [{}]}, "mark": {"type": "rule", "color": "#111", "strokeWidth": 2},
    "encoding": {
     "x": {"datum": 1.274, "type": "quantitative", "scale": {"domain": [0.91, 20.68], "nice": false, "zero": false}},
     "x2": {"datum": 20.576},
     "y": {"datum": 0, "type": "quantitative", "scale": {"domain": [0, 80], "nice": false, "zero": false}}}},
   {"data": {"values": [{}]}, "mark": {"type": "text", "text": "n", "fontSize": 22, "fontStyle": "italic", "align": "right", "baseline": "middle"},
    "encoding": {
     "x": {"datum": 7.684, "type": "quantitative", "scale": {"domain": [0.91, 20.68], "nice": false, "zero": false}},
     "y": {"datum": -25.614, "type": "quantitative", "scale": {"domain": [0, 80], "nice": false, "zero": false}}}},
   {"data": {"values": [{}]}, "mark": {"type": "text", "text": "-beat average", "fontSize": 22, "align": "left", "baseline": "middle"},
    "encoding": {
     "x": {"datum": 7.684, "type": "quantitative", "scale": {"domain": [0.91, 20.68], "nice": false, "zero": false}},
     "y": {"datum": -25.614, "type": "quantitative", "scale": {"domain": [0, 80], "nice": false, "zero": false}}}}
  ]
 }
]
}
